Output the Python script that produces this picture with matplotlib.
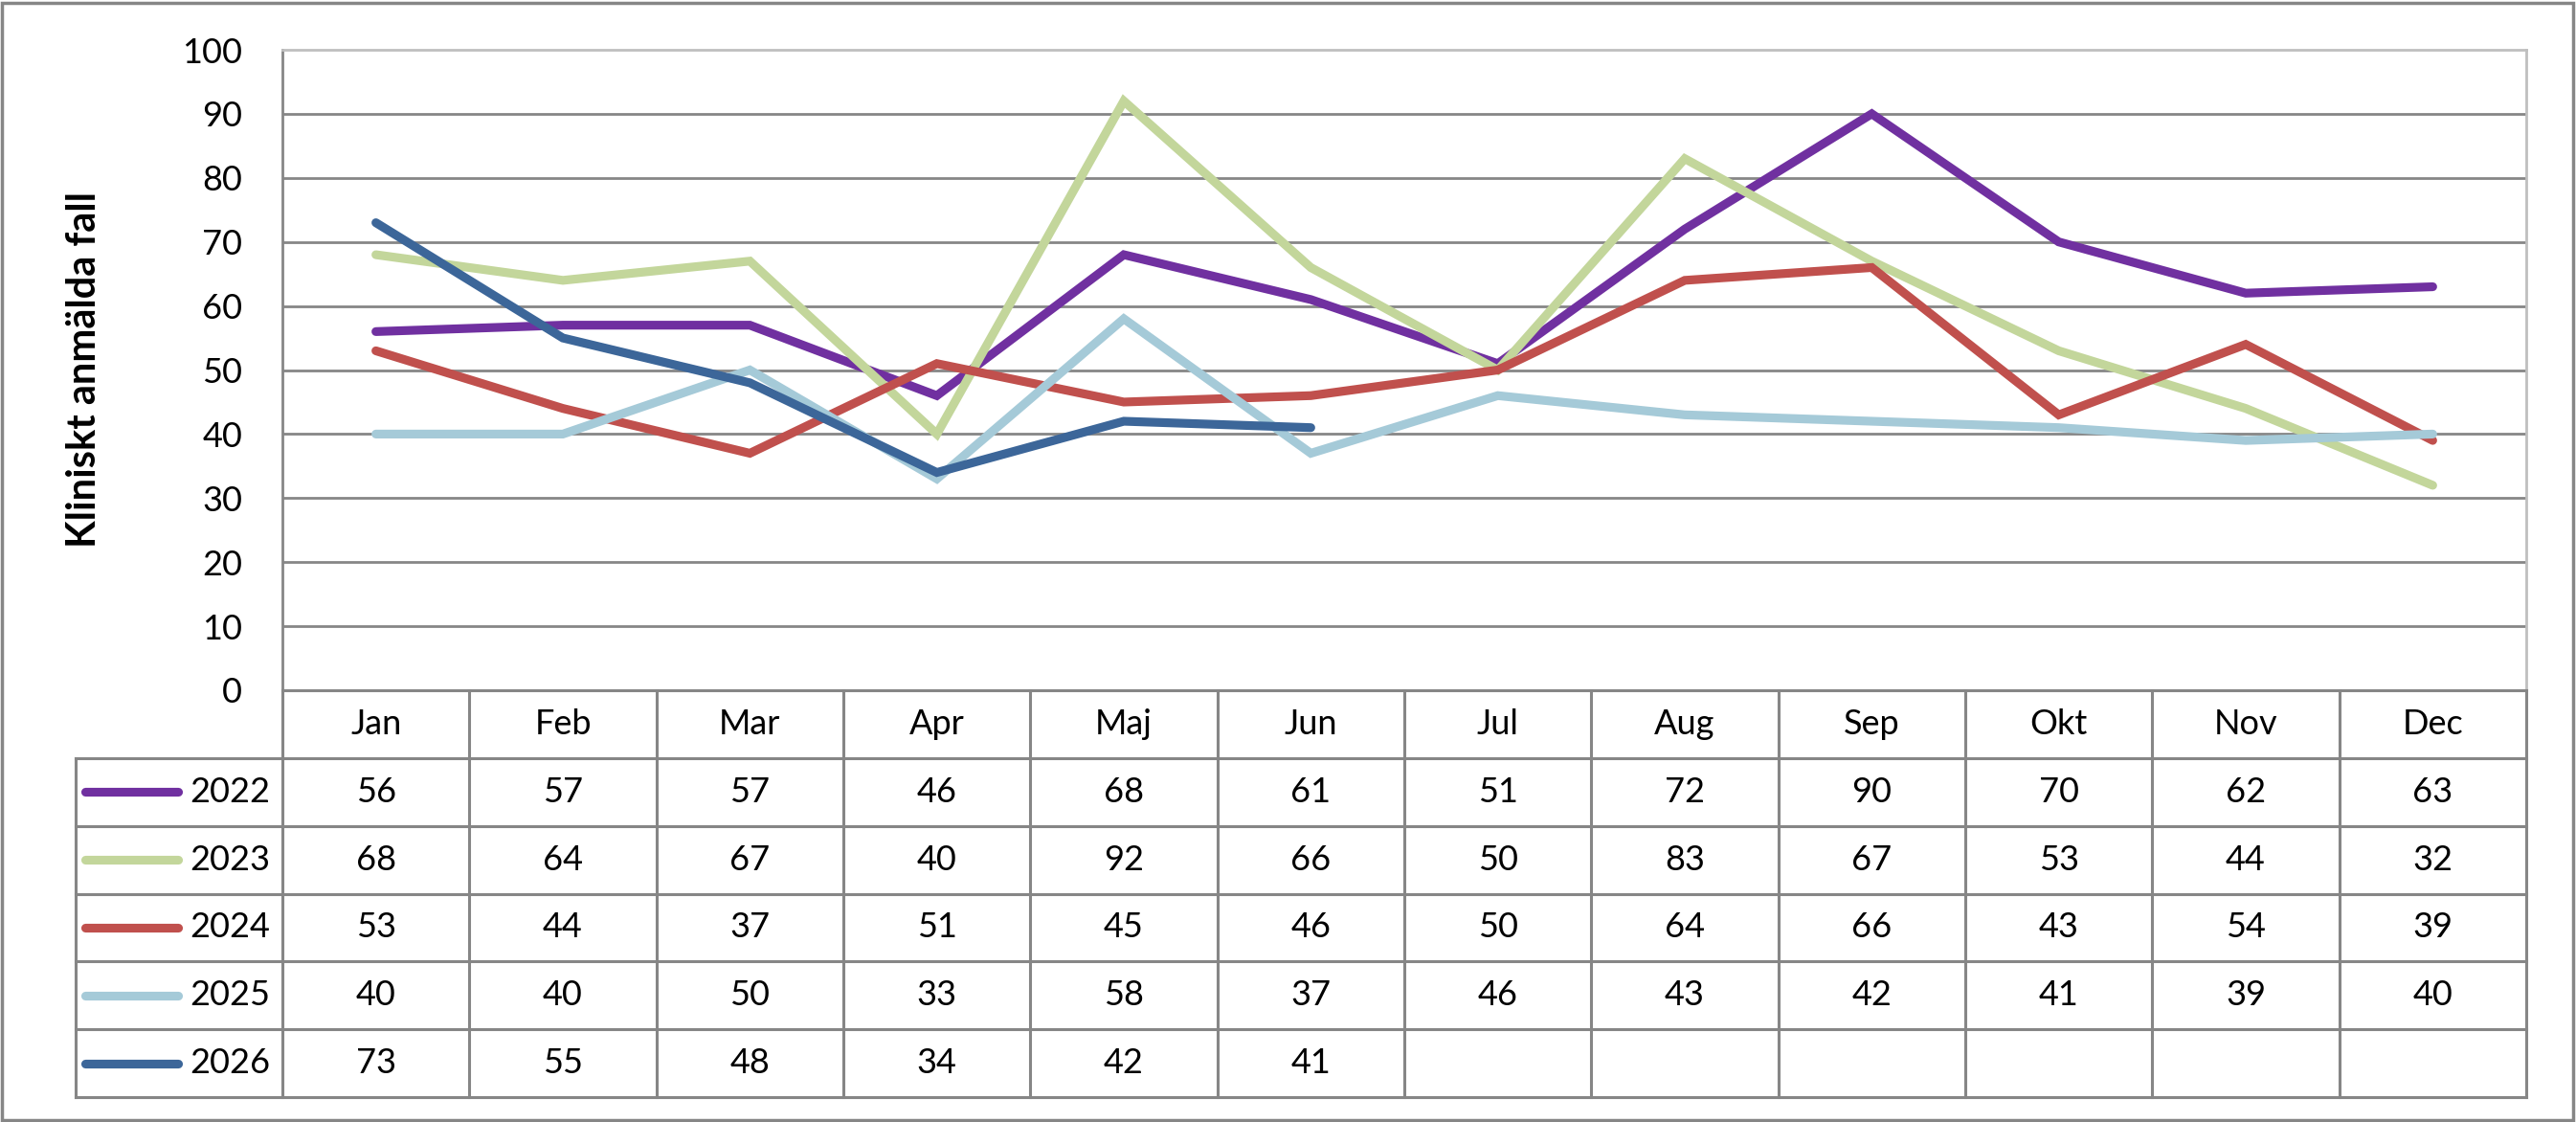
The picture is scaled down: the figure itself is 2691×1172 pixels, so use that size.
import matplotlib
matplotlib.use("Agg")
import matplotlib.pyplot as plt
from matplotlib.patches import Rectangle
import numpy as np

plt.rcParams["font.family"] = ["Lato", "DejaVu Sans"]

# ── data ──
MONTHS = ["Jan", "Feb", "Mar", "Apr", "Maj", "Jun",
          "Jul", "Aug", "Sep", "Okt", "Nov", "Dec"]
YEARS = ["2022", "2023", "2024", "2025", "2026"]
V2022 = [56, 57, 57, 46, 68, 61, 51, 72, 90, 70, 62, 63]
V2023 = [68, 64, 67, 40, 92, 66, 50, 83, 67, 53, 44, 32]
V2024 = [53, 44, 37, 51, 45, 46, 50, 64, 66, 43, 54, 39]
V2025 = [40, 40, 50, 33, 58, 37, 46, 43, 42, 41, 39, 40]
V2026 = [73, 55, 48, 34, 42, 41]
SERIES = [V2022, V2023, V2024, V2025, V2026]
COLORS = ["#7030A0", "#C3D69B", "#C0504D", "#A5CAD8", "#3C6699"]
Y_TICKS = list(range(0, 101, 10))
Y_LABEL = "Kliniskt anmälda fall"

W, H = 2691, 1172
GRID = "#868686"
LIGHT = "#BFBFBF"
LW = 6.6

fig = plt.figure(figsize=(W / 100, H / 100), dpi=100)
fig.patch.set_facecolor("white")


def px_box(x0, y0, x1, y1):
    """pixel box (top-left origin) -> figure fraction rect"""
    return [x0 / W, 1 - y1 / H, (x1 - x0) / W, (y1 - y0) / H]


# plot area
PL, PR, PT, PB = 295, 2639, 52, 721
ax = fig.add_axes(px_box(PL, PT, PR, PB))
ax.set_xlim(-0.5, len(MONTHS) - 0.5)
ax.set_ylim(0, 100)
for y in Y_TICKS[1:-1]:
    ax.axhline(y, color=GRID, lw=2.0, zorder=1)
for side in ["top", "right"]:
    ax.spines[side].set_color(LIGHT)
    ax.spines[side].set_linewidth(2.0)
ax.spines["left"].set_color(GRID)
ax.spines["left"].set_linewidth(2.0)
ax.spines["bottom"].set_visible(False)
ax.set_xticks([])
ax.set_yticks(Y_TICKS)
ax.tick_params(axis="y", length=0, pad=30, labelsize=26)

for vals, col in zip(SERIES, COLORS):
    ax.plot(np.arange(len(vals)), vals, color=col, lw=LW,
            solid_capstyle="round", solid_joinstyle="miter", zorder=3)

fig.text(88 / W, 1 - 386 / H, Y_LABEL, rotation=90, ha="center", va="center",
         fontsize=30, fontweight="bold")

# data table
TL, TB = 79, 1146
leg_w = (PL - TL) / ((PR - PL) / len(MONTHS))
tx = fig.add_axes(px_box(TL, PB, PR, TB))
tx.set_xlim(-0.5 - leg_w, len(MONTHS) - 0.5)
n_rows = len(YEARS) + 1
tx.set_ylim(0, n_rows)
tx.axis("off")

x_left = -0.5 - leg_w
x_right = len(MONTHS) - 0.5
for r in range(len(YEARS) + 1):
    tx.plot([x_left, x_right], [r, r], color=GRID, lw=2.2, clip_on=False)
tx.plot([-0.5, x_right], [n_rows, n_rows], color=GRID, lw=2.2, clip_on=False)
tx.plot([x_left, x_left], [0, len(YEARS)], color=GRID, lw=2.2, clip_on=False)
for k in range(len(MONTHS) + 1):
    tx.plot([k - 0.5, k - 0.5], [0, n_rows], color=GRID, lw=2.2, clip_on=False)

for i, m in enumerate(MONTHS):
    tx.text(i, n_rows - 0.5, m, ha="center", va="center", fontsize=26)

for r, (yr, vals, col) in enumerate(zip(YEARS, SERIES, COLORS)):
    yc = len(YEARS) - r - 0.5
    tx.plot([x_left + 0.05, x_left + 0.55], [yc, yc], color=col, lw=LW,
            solid_capstyle="round", clip_on=False)
    tx.text(-0.565, yc, yr, ha="right", va="center", fontsize=26)
    for i, v in enumerate(vals):
        tx.text(i, yc, str(v), ha="center", va="center", fontsize=26)

# outer frame
fig.patches.append(Rectangle((2 / W, 2 / H), (W - 5) / W, (H - 5) / H,
                             transform=fig.transFigure, fill=False,
                             edgecolor=GRID, lw=2.5))

fig.savefig("out.png", dpi=100)
